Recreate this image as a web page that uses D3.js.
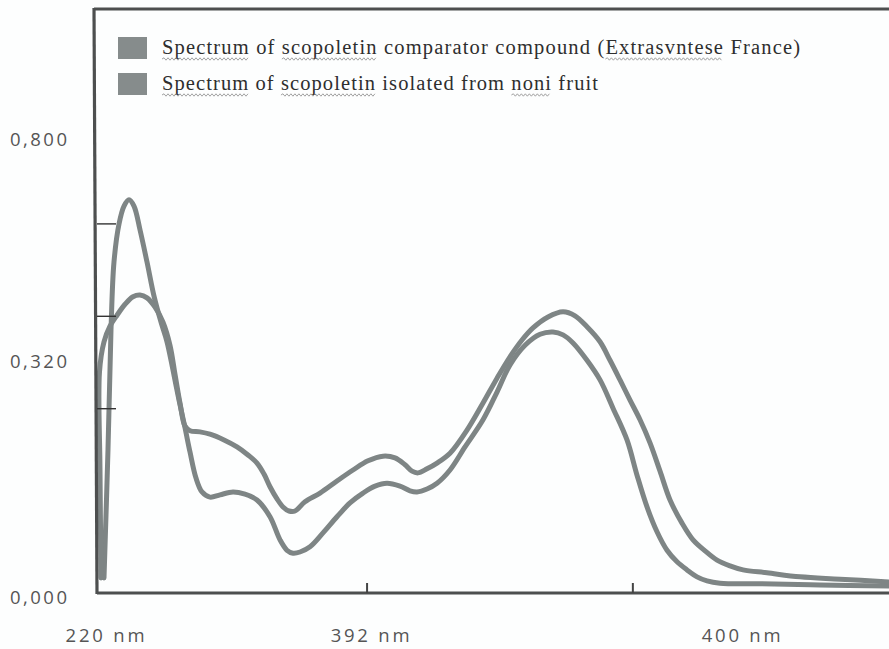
<!DOCTYPE html>
<html>
<head>
<meta charset="utf-8">
<script src="https://cdn.jsdelivr.net/npm/d3@7"></script>
<style>
  html, body { margin: 0; padding: 0; background: #ffffff; }
  svg { display: block; }
</style>
</head>
<body>
<svg id="chart" width="889" height="649"></svg>
<script>
// UV absorption spectra of scopoletin: wavelength (nm) and absorbance
const comparatorNm = [221.4, 222.52, 223.36, 224.2, 225.61, 227.01, 228.41, 229.81, 231.49, 233.46,
  235.42, 237.38, 239.06, 240.74, 242.42, 244.11, 245.51, 247.19, 248.87, 251.11,
  253.92, 257.56, 260.92, 264.29, 267.93, 270.74, 272.7, 274.38, 276.34, 279.15,
  282.79, 286.71, 290.36, 294.0, 297.37, 300.73, 304.37, 307.18, 309.14, 311.94,
  314.75, 318.39, 322.6, 327.64, 331.57, 335.21, 339.42, 343.62, 347.26, 350.07,
  352.87, 356.79, 360.44, 364.08, 368.0, 370.81, 373.61, 376.41, 379.22, 382.02,
  384.82, 387.63, 390.43, 394.07, 405.29, 422.1, 441.44];
const comparatorAbs = [0.026, 0.248, 0.455, 0.573, 0.639, 0.670, 0.681, 0.670, 0.629, 0.573,
  0.514, 0.469, 0.435, 0.386, 0.334, 0.286, 0.244, 0.199, 0.175, 0.166,
  0.170, 0.175, 0.171, 0.161, 0.132, 0.092, 0.074, 0.069, 0.071, 0.080,
  0.104, 0.132, 0.156, 0.173, 0.185, 0.190, 0.185, 0.177, 0.175, 0.180,
  0.190, 0.213, 0.253, 0.300, 0.348, 0.395, 0.429, 0.448, 0.452, 0.447,
  0.433, 0.403, 0.369, 0.320, 0.265, 0.204, 0.149, 0.106, 0.074, 0.054,
  0.040, 0.028, 0.021, 0.017, 0.016, 0.014, 0.012];

const isolatedNm = [220.56, 220.28, 220.14, 221.4, 223.08, 225.05, 227.29, 229.53, 231.49, 233.46,
  235.7, 237.94, 239.9, 241.3, 242.7, 244.11, 245.51, 248.31, 251.11, 255.04,
  258.68, 261.76, 264.29, 266.25, 267.93, 269.9, 271.58, 273.26, 274.94, 277.74,
  281.95, 286.71, 291.2, 295.4, 299.61, 302.97, 305.78, 307.74, 309.42, 311.94,
  314.75, 318.39, 323.15, 327.64, 331.57, 335.21, 338.57, 341.65, 345.86, 350.07,
  353.43, 356.79, 360.44, 363.24, 366.04, 368.85, 371.65, 374.45, 377.26, 380.06,
  383.42, 386.51, 389.87, 393.24, 396.88, 400.53, 407.25, 416.5, 427.72, 441.44];
const isolatedAbs = [0.026, 0.213, 0.383, 0.435, 0.462, 0.481, 0.500, 0.513, 0.516, 0.511,
  0.495, 0.469, 0.429, 0.379, 0.329, 0.289, 0.281, 0.279, 0.275, 0.265,
  0.253, 0.239, 0.225, 0.206, 0.184, 0.163, 0.149, 0.142, 0.142, 0.158,
  0.173, 0.194, 0.213, 0.229, 0.237, 0.234, 0.222, 0.211, 0.208, 0.215,
  0.225, 0.242, 0.282, 0.329, 0.372, 0.409, 0.438, 0.459, 0.478, 0.487,
  0.480, 0.461, 0.435, 0.403, 0.369, 0.334, 0.300, 0.260, 0.211, 0.161,
  0.121, 0.092, 0.073, 0.057, 0.047, 0.040, 0.035, 0.028, 0.024, 0.019];

const seriesNames = [
  "Spectrum of scopoletin comparator compound (Extrasvntese France)",
  "Spectrum of scopoletin isolated from noni fruit"
];
// words flagged with a wavy underline in each legend entry
const flaggedWords = [["Spectrum", "scopoletin", "Extrasvntese"], ["Spectrum", "scopoletin", "noni"]];

// axis annotations (text and where it sits, in data units)
const xLabelText = ["220 nm", "392 nm", "400 nm"];
const xLabelAt = [221.7, 296, 400];
const xTickAt = [295, 369.5];
const yLabelText = ["0,000", "0,320", "0,800"];
const yLabelAt = [-0.008, 0.40, 0.785];
const yTickAt = [0.32, 0.48, 0.64];

const svg = d3.select("#chart");
const W = 889, H = 649;

const x = d3.scaleLinear().domain([220, 442]).range([99, 891]);
const y = d3.scaleLinear().domain([0, 0.8]).range([593, 131]);

const lineColor = "#7e8585";
const frameColor = "#4d4f4f";

svg.append("rect").attr("width", W).attr("height", H).attr("fill", "#fdfefe");

svg.append("defs").append("clipPath").attr("id", "plotClip")
  .append("rect").attr("x", x(220) - 3).attr("y", 12).attr("width", W - x(220) + 3).attr("height", y(0) - 12);

// spectra
const line = d3.line()
  .x(d => x(d[0]))
  .y(d => y(d[1]))
  .curve(d3.curveCatmullRom.alpha(0.5));

const series = [
  d3.zip(comparatorNm, comparatorAbs),
  d3.zip(isolatedNm, isolatedAbs)
];

const plot = svg.append("g").attr("clip-path", "url(#plotClip)");
plot.selectAll("path.spectrum")
  .data(series)
  .join("path")
  .attr("class", "spectrum")
  .attr("d", line)
  .attr("fill", "none")
  .attr("stroke", lineColor)
  .attr("stroke-width", 5)
  .attr("stroke-linejoin", "round")
  .attr("stroke-linecap", "round");

// frame: top border, left (absorbance) axis, bottom (wavelength) axis
const x0 = x(220) - 2;
svg.append("line").attr("x1", x0 - 3).attr("x2", W).attr("y1", 9).attr("y2", 9)
  .attr("stroke", frameColor).attr("stroke-width", 3);
svg.append("line").attr("x1", x0 - 3).attr("x2", x0).attr("y1", 8).attr("y2", y(0) + 1)
  .attr("stroke", frameColor).attr("stroke-width", 3.2);
svg.append("line").attr("x1", x0).attr("x2", W).attr("y1", y(0)).attr("y2", y(0))
  .attr("stroke", frameColor).attr("stroke-width", 3);

// y ticks point into the plot
const yAxis = svg.append("g")
  .attr("transform", `translate(${x0},0)`)
  .call(d3.axisRight(y).tickValues(yTickAt).tickSize(19).tickFormat(""));
yAxis.select(".domain").remove();
yAxis.selectAll(".tick line").attr("stroke", "#333").attr("stroke-width", 1.4);

const xAxis = svg.append("g")
  .attr("transform", `translate(0,${y(0)})`)
  .call(d3.axisTop(x).tickValues(xTickAt).tickSize(10).tickFormat(""));
xAxis.select(".domain").remove();
xAxis.selectAll(".tick line").attr("stroke", "#444").attr("stroke-width", 2);

// axis labels
const labelFont = "'Open Sans', 'DejaVu Sans', sans-serif";
svg.append("g").selectAll("text")
  .data(yLabelText)
  .join("text")
  .attr("x", 10)
  .attr("y", (d, i) => y(yLabelAt[i]))
  .attr("dy", "0.35em")
  .attr("font-family", labelFont)
  .attr("font-size", 18.5)
  .attr("fill", "#555")
  .attr("textLength", 57)
  .attr("lengthAdjust", "spacing")
  .text(d => d);

svg.append("g").selectAll("text")
  .data(xLabelText)
  .join("text")
  .attr("x", (d, i) => x(xLabelAt[i]))
  .attr("y", 642)
  .attr("text-anchor", "middle")
  .attr("font-family", labelFont)
  .attr("font-size", 18.5)
  .attr("fill", "#555")
  .attr("textLength", 79)
  .attr("lengthAdjust", "spacing")
  .text(d => d);

// legend
const legendWidths = [638, 436];
const legend = svg.append("g");
seriesNames.forEach((name, i) => {
  const top = 37 + i * 36;
  legend.append("rect")
    .attr("x", 118).attr("y", top).attr("width", 29).attr("height", 22)
    .attr("fill", "#868c8c");
  const t = legend.append("text")
    .attr("x", 162).attr("y", top + 17)
    .attr("font-family", "'Liberation Serif', 'Times New Roman', serif")
    .attr("font-size", 20.5)
    .attr("fill", "#2e2e2e")
    .attr("textLength", legendWidths[i])
    .attr("lengthAdjust", "spacing")
    .text(name);
  // wavy underline under flagged words
  const node = t.node();
  flaggedWords[i].forEach(w => {
    const start = name.indexOf(w);
    if (start < 0) return;
    const a = node.getStartPositionOfChar(start).x;
    const b = node.getEndPositionOfChar(start + w.length - 1).x;
    const base = top + 22;
    let p = `M${a},${base}`;
    let up = true;
    for (let px = a + 2; px <= b; px += 2) {
      p += `L${px},${base + (up ? -1.2 : 1.2)}`;
      up = !up;
    }
    legend.append("path").attr("d", p).attr("fill", "none")
      .attr("stroke", "#8a8a8a").attr("stroke-width", 0.8);
  });
});
</script>
</body>
</html>
